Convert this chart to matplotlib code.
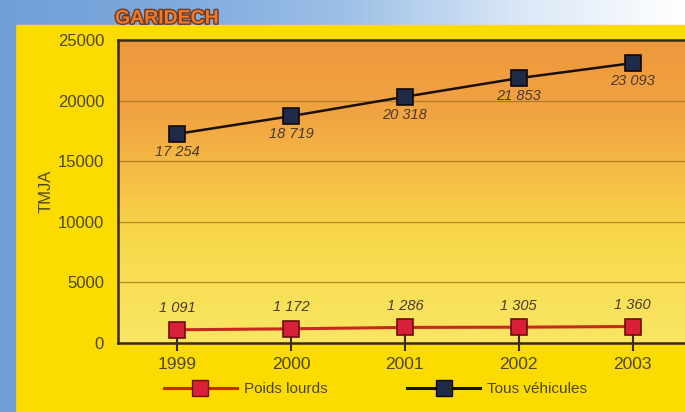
import numpy as np
import matplotlib.pyplot as plt
import matplotlib.patheffects as pe
from matplotlib.colors import LinearSegmentedColormap
from matplotlib.lines import Line2D
from matplotlib.patches import Rectangle

plt.rcParams['font.family'] = ['Liberation Sans', 'DejaVu Sans']

# Données (TMJA - Garidech)
annees = ['1999', '2000', '2001', '2002', '2003']
poids_lourds = [1091, 1172, 1286, 1305, 1360]
tous_vehicules = [17254, 18719, 20318, 21853, 23093]
yticks = [0, 5000, 10000, 15000, 20000, 25000]


def fmt(v):
    return f"{v:,}".replace(',', ' ')


W, H = 685, 412
fig = plt.figure(figsize=(W / 100, H / 100), dpi=100)
fig.patch.set_facecolor('#6E9FD6')

# fond : ciel en haut, panneau jaune
bg = fig.add_axes([0, 0, 1, 1], zorder=-10)
bg.set_axis_off()
sky = np.linspace(0, 1, 256)[None, :]
sky_cmap = LinearSegmentedColormap.from_list(
    'sky', ['#6E9FD6', '#7EAADE', '#9CBFE6', '#D8E6F6', '#FFFFFF'])
bg.imshow(sky, cmap=sky_cmap, extent=[0, 1, 0, 1], aspect='auto')
bg.add_patch(Rectangle((15 / W, 0), 1, (H - 25) / H, color='#FCDC00',
                       transform=bg.transAxes))
bg.add_patch(Rectangle((0, 0), 15 / W, 1, color='#6E9FD6',
                       transform=bg.transAxes))
bg.set_xlim(0, 1)
bg.set_ylim(0, 1)

ax = fig.add_axes([118 / W, (H - 343) / H, 1.0 - 118 / W + 0.01, 303 / H])
x = np.arange(len(annees))
ax.set_xlim(-0.52, 4.52)
ax.set_ylim(0, 25000)

# dégradé orange -> jaune dans la zone de tracé
grad = np.linspace(1, 0, 256)[:, None]
plot_cmap = LinearSegmentedColormap.from_list(
    'plot', [(0, '#F8E664'), (0.35, '#F9D84A'), (0.55, '#F6BE46'),
             (0.75, '#F1A442'), (1, '#EE983E')])
ax.imshow(grad, cmap=plot_cmap, extent=[-0.52, 4.52, 0, 25000],
          aspect='auto', zorder=0, origin='upper')

for yv in yticks[1:-1]:
    ax.axhline(yv, color='#9A6A1A', lw=0.9, alpha=0.7, zorder=1)

l1, = ax.plot(x, poids_lourds, color='#C8281E', lw=2.2, marker='s', ms=12,
              markerfacecolor='#D8203A', markeredgecolor='#6A1010',
              markeredgewidth=1.2, zorder=4)
l2, = ax.plot(x, tous_vehicules, color='#1A1008', lw=1.8, marker='s', ms=12,
              markerfacecolor='#1E2A48', markeredgecolor='#100808',
              markeredgewidth=1.2, zorder=4)

for xi, v in zip(x, poids_lourds):
    ax.text(xi, v + 1200, fmt(v), ha='center', va='bottom', style='italic',
            fontsize=10.5, color='#4A3A2A', zorder=5)
for xi, v in zip(x, tous_vehicules):
    ax.text(xi, v - 900, fmt(v), ha='center', va='top', style='italic',
            fontsize=10.5, color='#4A3A2A', zorder=5)

ax.set_xticks(x)
ax.set_xticklabels(annees, fontsize=12.5, color='#4E4612')
ax.set_yticks(yticks)
ax.set_yticklabels([str(t) for t in yticks], fontsize=12, color='#4E4612')
ax.tick_params(axis='x', direction='inout', length=12, width=1.5,
               color='#3A2A10', pad=4)
ax.tick_params(axis='y', length=0, pad=10)
for s in ['left', 'bottom', 'top']:
    ax.spines[s].set_color('#3A2A10')
    ax.spines[s].set_linewidth(1.8)
ax.spines['right'].set_visible(False)
ax.set_ylabel('TMJA', fontsize=12, color='#4E4612', labelpad=3)

# titre
fig.text(115 / W, 1 - 19 / H, 'GARIDECH', fontsize=14, fontweight='bold',
         color='#F07828', va='center', ha='left',
         path_effects=[pe.withStroke(linewidth=2, foreground='#6A3A20')])

# légende
h1 = Line2D([], [], color='#C8281E', lw=2.2, marker='s', ms=12,
            markerfacecolor='#D8203A', markeredgecolor='#6A1010')
h2 = Line2D([], [], color='#1A1008', lw=2.2, marker='s', ms=12,
            markerfacecolor='#1E2A48', markeredgecolor='#100808')
fig.legend([h1, h2], ['Poids lourds', 'Tous véhicules'], ncol=2,
           loc='center left', bbox_to_anchor=(150 / W, 1 - 389 / H),
           frameon=False, fontsize=11, handlelength=4.8, handletextpad=0.45,
           columnspacing=5.2, labelcolor='#4E4612')

fig.savefig('out.png', dpi=100)
